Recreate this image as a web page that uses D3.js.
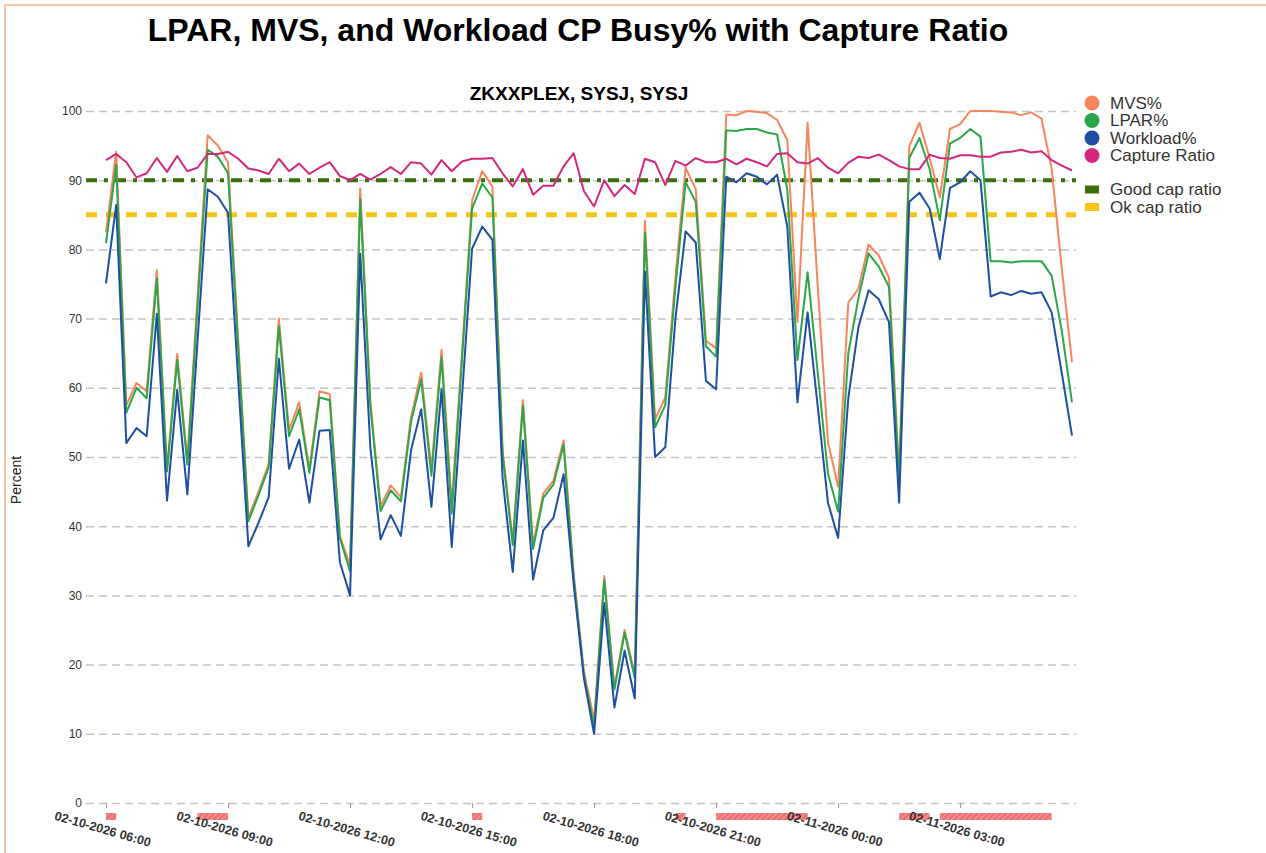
<!DOCTYPE html>
<html>
<head>
<meta charset="utf-8">
<script src="https://cdn.jsdelivr.net/npm/d3@7"></script>
<style>
    body { margin: 0; background: #fff; font-family: "Liberation Sans", Arial, sans-serif; }
    svg { display: block; }
</style>
</head>
<body>
<svg id="chart" width="1266" height="853"></svg>
<script>
// 15 minute intervals starting 02-10-2026 06:00
var START_TIME = "2026-02-10 06:00";
var STEP_MINUTES = 15;

var mvsPct = [82.5, 94.1, 57.5, 60.7, 59.5, 77.0, 48.2, 64.9, 49.6, 73.0, 96.5, 95.0, 92.6, 66.9, 41.2, 45.0,
    49.0, 70.0, 53.9, 57.9, 48.2, 59.5, 59.1, 38.6, 34.3, 88.8, 57.9, 42.9, 45.9, 44.2, 55.8, 62.2,
    48.2, 65.5, 43.1, 64.8, 87.1, 91.3, 89.1, 51.0, 37.9, 58.2, 37.3, 44.7, 46.6, 52.4, 33.0, 19.0,
    12.0, 32.8, 16.7, 25.0, 18.6, 84.1, 55.4, 58.6, 76.0, 91.8, 88.7, 66.8, 65.7, 99.5, 99.4, 100.0,
    99.9, 99.7, 98.7, 95.8, 69.5, 98.3, 74.6, 52.1, 45.7, 72.3, 74.3, 80.7, 79.1, 75.9, 47.5, 94.9,
    98.3, 93.2, 87.5, 97.4, 98.1, 100.0, 100.0, 100.0, 99.9, 99.8, 99.4, 99.8, 98.9, 91.6, 77.2, 63.7];

var lparPct = [80.9, 92.2, 56.4, 60.0, 58.5, 75.8, 47.9, 64.0, 48.9, 71.7, 94.4, 93.4, 91.0, 65.9, 40.7, 44.5,
    48.5, 68.9, 53.0, 56.9, 47.7, 58.6, 58.2, 38.3, 33.5, 87.3, 57.4, 42.2, 45.2, 43.6, 55.1, 61.2,
    47.3, 64.4, 41.8, 63.9, 85.9, 89.5, 87.5, 50.5, 37.3, 57.4, 36.7, 44.1, 46.0, 51.8, 32.5, 18.5,
    11.0, 32.2, 16.4, 24.6, 18.1, 82.4, 54.3, 57.5, 74.5, 89.7, 86.9, 66.0, 64.5, 97.2, 97.1, 97.4,
    97.4, 96.9, 96.6, 88.7, 64.0, 76.7, 62.1, 47.6, 42.1, 65.0, 73.0, 79.4, 77.5, 74.6, 46.5, 93.2,
    96.1, 91.6, 84.2, 95.3, 96.1, 97.4, 96.3, 78.3, 78.3, 78.1, 78.3, 78.3, 78.3, 76.2, 68.2, 57.9];

var workloadPct = [75.1, 86.4, 52.0, 54.2, 53.0, 70.7, 43.7, 59.7, 44.6, 66.7, 88.7, 87.6, 85.3, 61.2, 37.1, 40.5,
    44.2, 64.2, 48.3, 52.5, 43.4, 53.8, 53.9, 34.8, 30.0, 79.4, 51.3, 38.1, 41.6, 38.6, 51.0, 56.9,
    42.8, 59.8, 37.0, 58.5, 80.1, 83.3, 81.4, 47.0, 33.4, 52.4, 32.3, 39.4, 41.2, 47.5, 31.5, 18.0,
    10.0, 28.9, 13.8, 22.0, 15.1, 76.8, 50.0, 51.4, 70.0, 82.6, 81.0, 61.0, 59.8, 90.5, 89.7, 91.0,
    90.5, 89.4, 90.8, 83.3, 57.9, 70.9, 57.2, 43.4, 38.3, 58.5, 68.8, 74.1, 72.8, 69.5, 43.4, 86.9,
    88.2, 85.9, 78.6, 88.9, 89.7, 91.3, 90.0, 73.2, 73.8, 73.4, 74.0, 73.6, 73.8, 70.9, 62.1, 53.1];

var captureRatio = [92.9, 93.8, 92.6, 90.4, 91.0, 93.2, 91.2, 93.5, 91.3, 91.8, 93.8, 93.8, 94.1, 93.1, 91.7, 91.4,
    90.9, 93.1, 91.3, 92.4, 90.9, 91.8, 92.6, 90.6, 90.0, 90.9, 90.1, 90.9, 91.9, 90.9, 92.6, 92.4,
    90.8, 92.9, 91.3, 92.7, 93.1, 93.1, 93.2, 91.0, 89.1, 91.6, 87.9, 89.2, 89.2, 92.0, 93.9, 88.4,
    86.2, 90.0, 87.7, 89.3, 88.0, 93.1, 92.6, 89.3, 92.8, 92.1, 93.2, 92.6, 92.6, 93.1, 92.3, 93.1,
    92.6, 92.0, 93.8, 93.9, 92.6, 92.4, 93.2, 91.8, 91.0, 92.5, 93.4, 93.2, 93.7, 92.9, 92.0, 91.6,
    91.6, 93.7, 93.2, 93.1, 93.6, 93.6, 93.4, 93.4, 94.0, 94.1, 94.4, 94.0, 94.2, 92.9, 92.1, 91.4];

// capping periods drawn under the x axis
var capStart = ["2026-02-10 06:00", "2026-02-10 08:15", "2026-02-10 15:00", "2026-02-10 20:00",
    "2026-02-10 21:00", "2026-02-11 01:30", "2026-02-11 02:30"];
var capEnd = ["2026-02-10 06:15", "2026-02-10 09:00", "2026-02-10 15:15", "2026-02-10 20:15",
    "2026-02-10 23:15", "2026-02-11 02:15", "2026-02-11 05:15"];

var yTicks = [0, 10, 20, 30, 40, 50, 60, 70, 80, 90, 100];
var goodCapRatio = 90;
var okCapRatio = 85;

var seriesNames = ["MVS%", "LPAR%", "Workload%", "Capture Ratio"];
var seriesColors = ["#f7845a", "#2ba64a", "#1f4ea3", "#d4287f"];
var refNames = ["Good cap ratio", "Ok cap ratio"];
var refColors = ["#3b6e0c", "#f7c31a"];

var parseTime = d3.timeParse("%Y-%m-%d %H:%M");
var formatTick = d3.timeFormat("%m-%d-%Y %H:%M");

var start = parseTime(START_TIME);
var times = mvsPct.map(function (v, i) {
    return d3.timeMinute.offset(start, i * STEP_MINUTES);
});

var allSeries = [mvsPct, lparPct, workloadPct, captureRatio];

var svg = d3.select("#chart");
var gridLeft = 86,
    gridRight = 1076;

var x = d3.scaleTime()
    .domain([times[0], times[times.length - 1]])
    .range([106, 1072]);

var y = d3.scaleLinear().domain([0, 100]).range([803, 111]);

// page frame
svg.append("rect")
    .attr("x", 5)
    .attr("y", 5)
    .attr("width", 1300)
    .attr("height", 900)
    .attr("fill", "none")
    .attr("stroke", "#f3b48a")
    .attr("stroke-width", 1.5);

// hatch pattern for capping periods
var defs = svg.append("defs");
var pattern = defs.append("pattern")
    .attr("id", "hatch")
    .attr("patternUnits", "userSpaceOnUse")
    .attr("width", 4)
    .attr("height", 4)
    .attr("patternTransform", "rotate(45)");
pattern.append("rect").attr("width", 4).attr("height", 4).attr("fill", "#ee7272");
pattern.append("line")
    .attr("x1", 0).attr("y1", 0).attr("x2", 0).attr("y2", 4)
    .attr("stroke", "#f7b3b3")
    .attr("stroke-width", 1.4);

// titles
svg.append("text")
    .attr("x", 578)
    .attr("y", 41)
    .attr("text-anchor", "middle")
    .style("font-size", "32px")
    .style("font-weight", "bold")
    .attr("fill", "#000")
    .text("LPAR, MVS, and Workload CP Busy% with Capture Ratio");

svg.append("text")
    .attr("x", 579)
    .attr("y", 100)
    .attr("text-anchor", "middle")
    .style("font-size", "19px")
    .style("font-weight", "bold")
    .attr("fill", "#000")
    .text("ZKXXPLEX, SYSJ, SYSJ");

svg.append("text")
    .attr("transform", "translate(21,480) rotate(-90)")
    .attr("text-anchor", "middle")
    .style("font-size", "14px")
    .attr("fill", "#222")
    .text("Percent");

// y grid + labels
var yAxis = svg.append("g")
    .attr("transform", "translate(" + gridLeft + ",0)")
    .call(d3.axisLeft(y)
        .tickValues(yTicks)
        .tickSize(-(gridRight - gridLeft))
        .tickPadding(4));

yAxis.select(".domain").remove();
yAxis.selectAll(".tick line")
    .attr("stroke", "#c4c4c4")
    .attr("stroke-width", 1.5)
    .attr("stroke-dasharray", "8,5");
yAxis.selectAll(".tick text")
    .style("font-size", "12px")
    .style("font-family", "'Liberation Sans', Arial, sans-serif")
    .attr("fill", "#333");

// capping periods
svg.append("g")
    .selectAll("rect")
    .data(capStart)
    .enter()
    .append("rect")
    .attr("x", function (d) { return x(parseTime(d)); })
    .attr("y", 813)
    .attr("width", function (d, i) { return x(parseTime(capEnd[i])) - x(parseTime(d)); })
    .attr("height", 7)
    .attr("fill", "url(#hatch)");

// x axis ticks + labels
var xAxis = svg.append("g")
    .attr("transform", "translate(0," + y(0) + ")")
    .call(d3.axisBottom(x)
        .ticks(d3.timeHour.every(3))
        .tickSize(5)
        .tickFormat(formatTick));

xAxis.select(".domain").remove();
xAxis.selectAll(".tick line").attr("stroke", "#999");
xAxis.selectAll(".tick text")
    .attr("y", 0)
    .attr("dy", 0)
    .attr("transform", "translate(-4,27) rotate(16)")
    .attr("text-anchor", "middle")
    .attr("dominant-baseline", "middle")
    .style("font-size", "12.5px")
    .style("font-weight", "bold")
    .style("font-family", "'Liberation Sans', Arial, sans-serif")
    .attr("fill", "#333");

// reference lines
svg.append("line")
    .attr("x1", gridLeft).attr("x2", gridRight)
    .attr("y1", y(goodCapRatio)).attr("y2", y(goodCapRatio))
    .attr("stroke", refColors[0])
    .attr("stroke-width", 4)
    .attr("stroke-dasharray", "11,7,4,7");

svg.append("line")
    .attr("x1", gridLeft).attr("x2", gridRight)
    .attr("y1", y(okCapRatio)).attr("y2", y(okCapRatio))
    .attr("stroke", refColors[1])
    .attr("stroke-width", 5)
    .attr("stroke-dasharray", "11,9");

// data lines
var line = d3.line()
    .x(function (d, i) { return x(times[i]); })
    .y(function (d) { return y(d); });

svg.append("g")
    .selectAll("path")
    .data(allSeries)
    .enter()
    .append("path")
    .attr("d", line)
    .attr("fill", "none")
    .attr("stroke", function (d, i) { return seriesColors[i]; })
    .attr("stroke-width", 2)
    .attr("stroke-linejoin", "round");

// legend
var legend = svg.append("g").attr("transform", "translate(1092,0)");
var legendY = [103, 120.5, 138, 155.5];

legend.selectAll("circle")
    .data(seriesNames)
    .enter()
    .append("circle")
    .attr("cx", 0)
    .attr("cy", function (d, i) { return legendY[i]; })
    .attr("r", 7.5)
    .attr("fill", function (d, i) { return seriesColors[i]; });

legend.selectAll("text.series")
    .data(seriesNames)
    .enter()
    .append("text")
    .attr("class", "series")
    .attr("x", 18)
    .attr("y", function (d, i) { return legendY[i]; })
    .attr("dy", "0.35em")
    .style("font-size", "17px")
    .attr("fill", "#333")
    .text(function (d) { return d; });

var refY = [189.5, 207];

legend.selectAll("rect")
    .data(refNames)
    .enter()
    .append("rect")
    .attr("x", -7)
    .attr("y", function (d, i) { return refY[i] - 4; })
    .attr("width", 14)
    .attr("height", 8)
    .attr("fill", function (d, i) { return refColors[i]; });

legend.selectAll("text.ref")
    .data(refNames)
    .enter()
    .append("text")
    .attr("class", "ref")
    .attr("x", 18)
    .attr("y", function (d, i) { return refY[i]; })
    .attr("dy", "0.35em")
    .style("font-size", "17px")
    .attr("fill", "#333")
    .text(function (d) { return d; });
</script>
</body>
</html>
